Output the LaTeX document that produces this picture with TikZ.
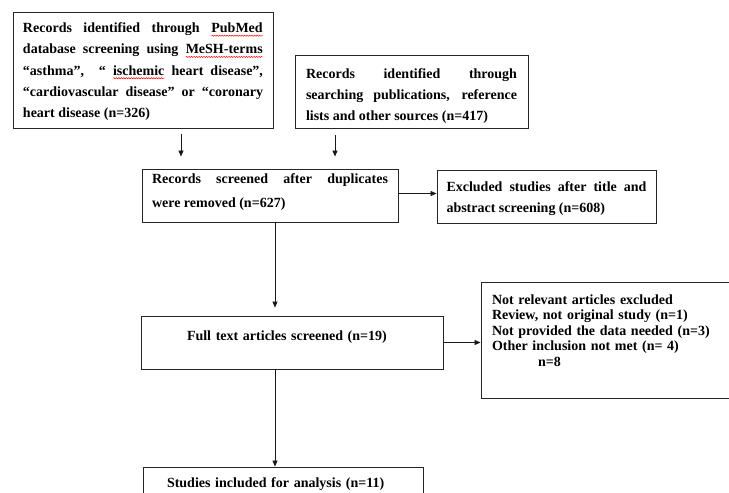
\documentclass[tikz,border=0pt]{standalone}
\usepackage{fontspec}
\setmainfont{Liberation Serif}
\usetikzlibrary{arrows.meta,decorations.pathmorphing}
\tikzstyle{box} = [draw=black!85, line width=0.9pt, inner xsep=10pt, inner ysep=0pt, font={\bfseries\fontsize{14}{21}\selectfont}]
\tikzstyle{para} = [align=justify]
\tikzstyle{arr} = [-{Triangle[length=6pt,width=5pt]}, line width=0.8pt, black!90]
\tikzstyle{wave} = [red, line width=0.5pt, decorate, decoration={snake,amplitude=0.6pt,segment length=2.5pt}]
\tikzstyle{word} = [draw=none, inner sep=0pt, outer sep=0pt, minimum width=0pt, minimum height=0pt, text width={}, text depth={}, text height={}, align=none, anchor=base]
\newcommand\spellwave[1]{\tikz[baseline=(w.base)]{\node[word](w){#1};\draw[wave]([yshift=-3pt]w.base west)--([yshift=-3pt]w.base east);}}

\begin{document}
\begin{tikzpicture}[x=1pt,y=-1pt]
    \useasboundingbox (0,0) rectangle (729,493);
    \clip (0,0) rectangle (729,493);
    \node[box,para,minimum width=260pt,minimum height=116pt,text width=240pt,text depth=84.5pt,font={\bfseries\fontsize{14}{21.25}\selectfont}](pubmed) at (143,70){Records identified through \spellwave{PubMed}\linebreak database screening using \spellwave{MeSH-terms}\linebreak “asthma”, \ “\ \spellwave{ischemic} heart disease”,\linebreak “cardiovascular disease” or “coronary\linebreak heart disease (n=326)};
    \node[box,para,inner xsep=11pt,minimum width=233pt,minimum height=73pt,text width=211pt,text depth=35pt](other) at (411.5,91.5){Records identified through\linebreak searching publications, reference\linebreak lists and other sources (n=417)};
    \node[box,para,minimum width=256pt,minimum height=53pt,text width=236pt,text depth=34pt,font={\bfseries\fontsize{14}{24}\selectfont}](screened) at (270,195.5){Records screened after duplicates\linebreak were removed (n=627)};
    \node[box,para,inner xsep=9.5pt,minimum width=219pt,minimum height=53pt,text width=200pt,text depth=19pt](excluded) at (546.5,196.5){Excluded studies after title and\linebreak abstract screening (n=608)};
    \node[box,align=left,inner xsep=46pt,minimum width=302pt,minimum height=53pt,text width=210pt,text depth=14pt](fulltext) at (292,342.5){Full text articles screened (n=19)};
    \node[box,align=left,inner xsep=11pt,minimum width=252pt,minimum height=116pt,text width=230pt,text depth=81pt,font={\bfseries\fontsize{14}{15.5}\selectfont}](notrel) at (607,340){Not relevant articles excluded\\Review, not original study (n=1)\\Not provided the data needed (n=3)\\Other inclusion not met (n= 4)\\\hspace*{46pt}n=8};
    \node[box,align=left,inner xsep=24pt,minimum width=280pt,minimum height=40pt,text width=232pt,text depth=9pt](included) at (283,487){Studies included for analysis (n=11)};
    \coordinate (c1) at (181,0);
    \coordinate (c2) at (335,0);
    \coordinate (c3) at (275,0);
    \draw[arr,shorten <=6pt,shorten >=12pt](pubmed.south -| c1)--(screened.north -| c1);
    \draw[arr,shorten <=7pt,shorten >=12pt](other.south -| c2)--(screened.north -| c2);
    \draw[arr]([yshift=2pt]screened.east)--([yshift=2pt]screened.east -| excluded.west);
    \draw[arr,shorten >=8pt](screened.south -| c3)--(fulltext.north -| c3);
    \draw[arr](fulltext.east)--(fulltext.east -| notrel.west);
    \draw[arr](fulltext.south -| c3)--(included.north -| c3);
  \end{tikzpicture}
\end{document}
